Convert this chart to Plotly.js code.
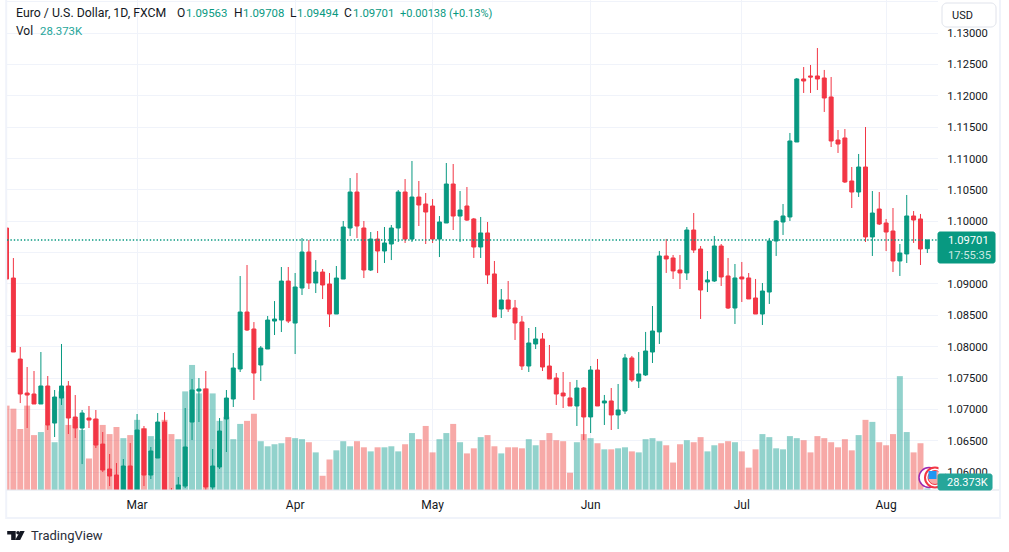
<!DOCTYPE html>
<html>
<head>
<meta charset="utf-8">
<script src="https://cdn.plot.ly/plotly-3.0.1.min.js"></script>
<style>
  html, body { margin: 0; padding: 0; background: #fff; }
  #graph { width: 1009px; height: 552px; }
</style>
</head>
<body>
<div id="graph"></div>
<script>
// EUR/USD daily candles, Feb - Aug
const opens = [
  1.09893,1.09095,1.07803,1.07261,1.07245,1.07086,1.07373,1.06782,1.07181,1.07373,
  1.06878,1.06703,1.06862,1.06846,1.06447,1.06049,1.05953,1.05650,1.06097,1.05650,
  1.06687,1.05953,1.06224,1.06798,1.05690,1.05650,1.05777,1.06798,1.07293,1.07325,
  1.05762,1.06081,1.06846,1.07165,1.07644,1.08553,1.08282,1.07708,1.07963,1.08409,
  1.08425,1.09047,1.08377,1.08936,1.09510,1.09016,1.09191,1.09000,1.08521,1.09079,
  1.09893,1.10467,1.09893,1.09223,1.09717,1.09526,1.09638,1.09893,1.10467,1.09717,
  1.10387,1.10276,1.10244,1.09717,1.09973,1.10595,1.10084,1.10244,1.10037,1.09590,
  1.09814,1.09160,1.08601,1.08745,1.08617,1.08394,1.07692,1.08043,1.08123,1.07692,
  1.07501,1.07261,1.07182,1.07054,1.07341,1.06879,1.07628,1.07102,1.07134,1.06911,
  1.06974,1.07820,1.07452,1.07549,1.07915,1.08235,1.09447,1.09415,1.09223,1.09176,
  1.09861,1.09558,1.09032,1.09048,1.09606,1.09128,1.08617,1.09112,1.09096,1.08777,
  1.08521,1.08872,1.09686,1.09989,1.10069,1.11265,1.12270,1.12318,1.12318,1.12286,
  1.11983,1.11297,1.11329,1.10643,1.10467,1.10866,1.09750,1.10196,1.09973,1.09845,
  1.09367,1.09479,1.10085,1.10037,1.09563
];
const highs = [
  1.10340,1.09414,1.07995,1.07676,1.07612,1.07915,1.07532,1.07309,1.08043,1.07452,
  1.07229,1.06990,1.07054,1.06990,1.06639,1.06288,1.06144,1.06208,1.06463,1.06926,
  1.06735,1.06400,1.06942,1.06958,1.05746,1.05921,1.07022,1.07484,1.07500,1.07612,
  1.06368,1.06862,1.07309,1.07899,1.09127,1.09303,1.08393,1.08011,1.08489,1.08728,
  1.09271,1.09271,1.09175,1.09733,1.09701,1.09382,1.09239,1.09175,1.09287,1.10005,
  1.10690,1.10770,1.10005,1.09829,1.09845,1.09909,1.09941,1.10499,1.10674,1.10962,
  1.10643,1.10451,1.10355,1.10084,1.10930,1.10914,1.10483,1.10547,1.10053,1.10069,
  1.09989,1.09367,1.08920,1.09048,1.08745,1.08490,1.08298,1.08314,1.08218,1.08027,
  1.07580,1.07596,1.07437,1.07469,1.07357,1.07692,1.07804,1.07230,1.07341,1.07405,
  1.07884,1.07852,1.07915,1.08235,1.08649,1.09527,1.09718,1.09463,1.09463,1.09909,
  1.10132,1.09606,1.09207,1.09766,1.09638,1.09415,1.09319,1.09351,1.09175,1.09080,
  1.09016,1.09734,1.10021,1.10276,1.11409,1.12286,1.12461,1.12493,1.12764,1.12414,
  1.12302,1.11456,1.11472,1.10866,1.11074,1.11504,1.10483,1.10467,1.10037,1.10212,
  1.09638,1.10420,1.10164,1.10117,1.09708
];
const lows = [
  1.08861,1.07915,1.07101,1.06703,1.07086,1.07086,1.06671,1.06559,1.07070,1.06607,
  1.06543,1.06128,1.06703,1.06384,1.06001,1.05777,1.05600,1.05600,1.05600,1.05600,
  1.05777,1.05889,1.06224,1.05600,1.05550,1.05600,1.05746,1.06511,1.06798,1.05714,
  1.05714,1.06049,1.06320,1.07038,1.07596,1.08250,1.07150,1.07453,1.07963,1.08186,
  1.08234,1.08377,1.07883,1.08824,1.08920,1.08856,1.08760,1.08314,1.08521,1.09079,
  1.09765,1.09733,1.09095,1.09207,1.09175,1.09335,1.09382,1.09670,1.09654,1.09670,
  1.09925,1.09638,1.09654,1.09430,1.09973,1.09861,1.09670,1.10005,1.09415,1.09415,
  1.09000,1.08474,1.08458,1.08554,1.08107,1.07628,1.07596,1.07963,1.07612,1.07485,
  1.07070,1.07022,1.07054,1.06735,1.06512,1.06623,1.07054,1.06751,1.06671,1.06687,
  1.06927,1.07437,1.07341,1.07533,1.07740,1.08043,1.09176,1.09080,1.08920,1.09064,
  1.09495,1.08442,1.08872,1.09032,1.08968,1.08601,1.08362,1.08713,1.08761,1.08521,
  1.08346,1.08681,1.09447,1.09782,1.10005,1.11265,1.12047,1.12047,1.12094,1.11744,
  1.11185,1.11090,1.10611,1.10212,1.10388,1.09670,1.09447,1.09941,1.09526,1.09191,
  1.09128,1.09335,1.09654,1.09303,1.09494
];
const closes = [
  1.09079,1.07915,1.07245,1.07229,1.07086,1.07373,1.06751,1.07197,1.07373,1.06862,
  1.06703,1.06942,1.06830,1.06431,1.06033,1.05937,1.05650,1.06097,1.05650,1.06671,
  1.05953,1.06336,1.06798,1.05650,1.05600,1.05794,1.06400,1.07309,1.07325,1.05762,
  1.06097,1.06655,1.07181,1.07660,1.08553,1.08266,1.07580,1.07979,1.08425,1.08441,
  1.09047,1.08409,1.08952,1.09510,1.09016,1.09191,1.08984,1.08521,1.09095,1.09909,
  1.10467,1.09925,1.09223,1.09717,1.09526,1.09654,1.09893,1.10467,1.09717,1.10387,
  1.10260,1.10148,1.09717,1.09989,1.10595,1.10084,1.10180,1.10020,1.09590,1.09814,
  1.09144,1.08474,1.08745,1.08601,1.08378,1.07692,1.08059,1.08123,1.07676,1.07485,
  1.07245,1.07214,1.07054,1.07341,1.06879,1.07628,1.07054,1.07134,1.06911,1.06990,
  1.07820,1.07469,1.07565,1.07931,1.08250,1.09447,1.09399,1.09208,1.09176,1.09861,
  1.09542,1.08904,1.09064,1.09606,1.09112,1.08617,1.09096,1.09080,1.08761,1.08521,
  1.08888,1.09686,1.10005,1.10085,1.11281,1.12270,1.12238,1.12302,1.12270,1.11967,
  1.11281,1.11233,1.10627,1.10467,1.10866,1.09750,1.10132,1.09957,1.09829,1.09367,
  1.09494,1.10085,1.10021,1.09558,1.09701
];
// volume in thousands
const volumes = [
  1577,1520,1140,1577,1026,1083,1216,893,1843,1216,
  1330,1121,589,1330,1216,1045,1178,969,1026,1311,
  1159,1007,950,1311,1045,950,1843,2337,1805,1900,
  1805,1292,1368,950,1235,1292,1425,912,817,855,
  874,988,969,950,893,703,266,570,741,912,
  817,912,798,722,798,798,817,722,855,1064,
  950,1197,703,950,1064,1235,893,684,779,988,
  1026,817,684,798,798,779,950,836,931,1064,
  931,912,323,893,1045,969,874,760,760,779,
  798,722,703,950,969,912,836,513,855,931,
  893,988,722,836,874,912,893,722,418,760,
  1045,988,779,760,1007,969,931,703,1007,969,
  893,798,950,741,1026,1311,1273,893,836,1045,
  2128,1083,703,874,28.373
];
const monthTicks = [19, 42, 62, 85, 107, 128];
const monthLabels = ["Mar", "Apr", "May", "Jun", "Jul", "Aug"];
const priceTicks = [1.06, 1.065, 1.07, 1.075, 1.08, 1.085, 1.09, 1.095, 1.10, 1.105, 1.11, 1.115, 1.12, 1.125, 1.13, 1.135];
// 1.095 sits under the last price label and 1.135 under the USD button
const priceLabels = ["1.06000", "1.06500", "1.07000", "1.07500", "1.08000", "1.08500", "1.09000", "", "1.10000", "1.10500", "1.11000", "1.11500", "1.12000", "1.12500", "1.13000", ""];

const UP = "#089981";
const DOWN = "#F23645";
const INK = "#131722";
const GRID = "#f0f3fa";
const FONT = "Roboto, sans-serif";

const W = 1009, H = 552;
const M = { l: 7.3, r: 71, t: 0, b: 62 };
const px = (x) => (x - M.l) / (W - M.l - M.r);
const py = (y) => (H - M.b - y) / (H - M.t - M.b);

const idx = opens.map((_, i) => i);
const last = closes.length - 1;

const volumeColors = idx.map((i) =>
  closes[i] >= opens[i] ? "rgba(38,166,154,0.5)" : "rgba(239,83,80,0.5)"
);

const traces = [
  {
    type: "bar",
    x: idx,
    y: volumes,
    yaxis: "y",
    marker: { color: volumeColors, line: { width: 0 } },
    hoverinfo: "skip",
  },
  {
    type: "candlestick",
    x: idx,
    open: opens,
    high: highs,
    low: lows,
    close: closes,
    yaxis: "y2",
    whiskerwidth: 0,
    increasing: { line: { color: UP, width: 1 }, fillcolor: UP },
    decreasing: { line: { color: DOWN, width: 1 }, fillcolor: DOWN },
  },
];

const text = (t, x, y, opts = {}) => ({
  text: t,
  xref: "paper",
  yref: "paper",
  x: px(x),
  y: py(y),
  xanchor: opts.anchor || "left",
  yanchor: "middle",
  showarrow: false,
  borderpad: 0,
  font: { family: FONT, size: opts.size || 12, color: opts.color || INK },
});

const annotations = [
  text("Euro / U.S. Dollar, 1D, FXCM", 15, 13.5, { size: 12.3 }),
  text("O", 176, 13.5),
  text(opens[last].toFixed(5), 185, 13.5, { color: UP, size: 11.4 }),
  text("H", 233, 13.5),
  text(highs[last].toFixed(5), 242, 13.5, { color: UP, size: 11.4 }),
  text("L", 289, 13.5),
  text(lows[last].toFixed(5), 296, 13.5, { color: UP, size: 11.4 }),
  text("C", 343, 13.5),
  text(closes[last].toFixed(5), 352, 13.5, { color: UP, size: 11.4 }),
  text("+0.00138 (+0.13%)", 399, 13.5, { color: UP, size: 11 }),
  text("Vol", 15, 31),
  text("28.373K", 39, 31, { color: "#26a69a", size: 11.4 }),
  text("USD", 951, 15.5, { size: 11 }),
  text(closes[last].toFixed(5), 947, 240.5, { color: "#ffffff", size: 11.2 }),
  text("17:55:35", 947, 255, { color: "rgba(255,255,255,0.8)", size: 11.2 }),
  text("28.373K", 946, 482, { color: "#ffffff", size: 11 }),
  text("TradingView", 30, 535, { size: 13, color: "#2a2e39" }),
];

const rect = (x0, y0, x1, y1, fill, line, width) => ({
  type: "rect",
  xref: "paper",
  yref: "paper",
  x0: px(x0),
  x1: px(x1),
  y0: py(y0),
  y1: py(y1),
  fillcolor: fill,
  line: { color: line || fill, width: width === undefined ? 0 : width },
  layer: "above",
});

const circle = (cx, cy, r, fill, line, width) => ({
  ...rect(cx - r, cy - r, cx + r, cy + r, fill, line, width),
  type: "circle",
});

// path given in picture pixels, turned into paper coordinates
const poly = (points, fill) => ({
  type: "path",
  xref: "paper",
  yref: "paper",
  path:
    points
      .map((p, i) => (i ? "L" : "M") + px(p[0]) + "," + py(p[1]))
      .join(" ") + " Z",
  fillcolor: fill,
  line: { width: 0 },
  layer: "above",
});

const roundBox = (x0, y0, x1, y1, r, fill, line) => {
  const pts = [];
  const corner = (cx, cy, a0) => {
    for (let k = 0; k <= 6; k++) {
      const a = a0 + (k / 6) * (Math.PI / 2);
      pts.push([cx + r * Math.cos(a), cy + r * Math.sin(a)]);
    }
  };
  corner(x1 - r, y0 + r, -Math.PI / 2);
  corner(x1 - r, y1 - r, 0);
  corner(x0 + r, y1 - r, Math.PI / 2);
  corner(x0 + r, y0 + r, Math.PI);
  const s = poly(pts, fill);
  s.line = { color: line, width: 1 };
  return s;
};

const shapes = [
  // frame and bottom scale line
  rect(6.5, -2, 1000, 518, "rgba(0,0,0,0)", "#f0f3fa", 2),
  {
    type: "line",
    xref: "paper",
    yref: "paper",
    x0: px(7),
    x1: px(999),
    y0: py(490),
    y1: py(490),
    line: { color: "#e0e3eb", width: 1 },
    layer: "above",
  },
  // last price line
  {
    type: "line",
    xref: "paper",
    yref: "y2",
    x0: 0,
    x1: 1,
    y0: closes[last],
    y1: closes[last],
    line: { color: UP, width: 1.6, dash: "1.4px,2px" },
    layer: "above",
  },
  // symbol logos at the end of the volume pane
  circle(929, 477.5, 10, "#ffffff", "#9c27b0", 1.5),
  circle(935, 477.5, 10, "#ffffff", "#f23645", 2),
  circle(935, 477.5, 7, "#f7a9a7", "#f23645", 1),
  rect(928.5, 471, 936.5, 479, "#2196f3"),
  rect(938.5, 464, 945, 474, "#ffffff"),
  // price labels
  roundBox(938, 232, 995, 263, 2, UP, UP),
  roundBox(938, 474, 992, 490, 2, "#26a69a", "#26a69a"),
  // currency button
  roundBox(942, 3, 996, 27, 5, "#ffffff", "#e0e3eb"),
  // TradingView mark
  poly([[7.5, 531], [16, 531], [16, 540], [11.5, 540], [11.5, 534.5], [7.5, 534.5]], INK),
  circle(18.3, 532.8, 1.8, INK, INK, 0),
  poly([[20.5, 531], [25, 531], [20.5, 540], [15.5, 540]], INK),
];

const layout = {
  width: W,
  height: H,
  margin: M,
  paper_bgcolor: "#ffffff",
  plot_bgcolor: "#ffffff",
  showlegend: false,
  bargap: 0.13,
  boxgap: 0.42,
  boxgroupgap: 0,
  font: { family: FONT, size: 12, color: INK },
  xaxis: {
    range: [0.07, 135.55],
    rangeslider: { visible: false },
    tickmode: "array",
    tickvals: monthTicks,
    ticktext: monthLabels,
    ticks: "outside",
    ticklen: 4,
    tickcolor: "rgba(0,0,0,0)",
    gridcolor: GRID,
    gridwidth: 1,
    showline: false,
    zeroline: false,
    tickfont: { family: FONT, size: 12, color: INK },
  },
  yaxis: {
    range: [0, 9158],
    showgrid: false,
    showticklabels: false,
    zeroline: false,
    ticks: "",
  },
  yaxis2: {
    overlaying: "y",
    side: "right",
    range: [1.05714, 1.1353],
    tickmode: "array",
    tickvals: priceTicks,
    ticktext: priceLabels,
    ticks: "outside",
    ticklen: 6,
    tickcolor: "rgba(0,0,0,0)",
    gridcolor: GRID,
    gridwidth: 1,
    zeroline: false,
    tickfont: { family: FONT, size: 11.2, color: INK },
  },
  shapes: shapes,
  annotations: annotations,
};

Plotly.newPlot("graph", traces, layout, { displayModeBar: false, responsive: false });
</script>
</body>
</html>
